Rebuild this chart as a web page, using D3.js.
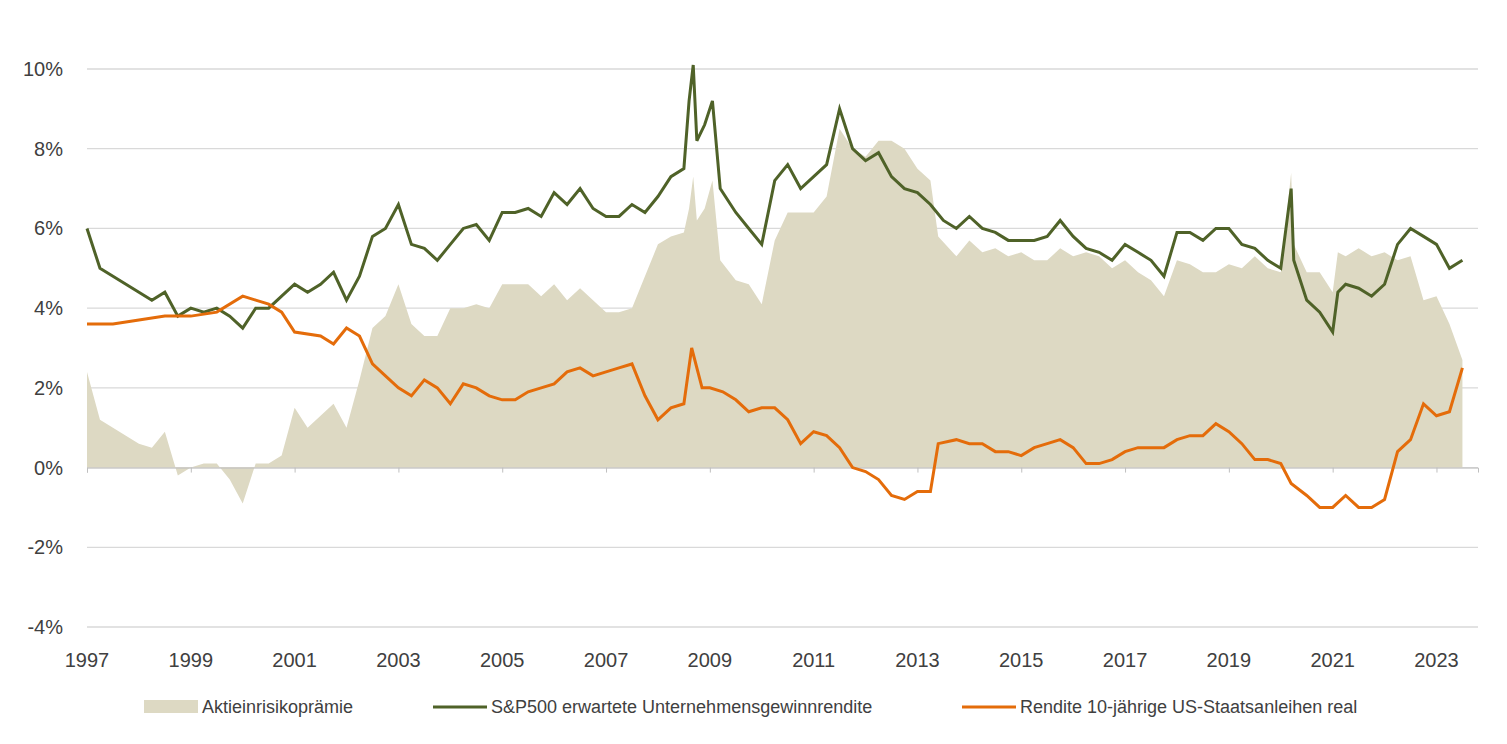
<!DOCTYPE html>
<html><head><meta charset="utf-8">
<script src="https://cdn.jsdelivr.net/npm/d3@7"></script>
<style>body{margin:0;background:#fff}svg{font-family:"Liberation Sans",Arial,sans-serif}</style>
</head><body><svg id="c" width="1507" height="744"></svg>
<script>
// [year, %] pairs
const premium = [[1997,2.4],[1997.25,1.2],[1997.5,1.0],[1997.75,0.8],[1998,0.6],[1998.25,0.5],[1998.5,0.9],[1998.75,-0.2],[1999,0.0],[1999.25,0.1],[1999.5,0.1],[1999.75,-0.3],[2000,-0.9],[2000.25,0.1],[2000.5,0.1],[2000.75,0.3],[2001,1.5],[2001.25,1.0],[2001.5,1.3],[2001.75,1.6],[2002,1.0],[2002.25,2.2],[2002.5,3.5],[2002.75,3.8],[2003,4.6],[2003.25,3.6],[2003.5,3.3],[2003.75,3.3],[2004,4.0],[2004.25,4.0],[2004.5,4.1],[2004.75,4.0],[2005,4.6],[2005.25,4.6],[2005.5,4.6],[2005.75,4.3],[2006,4.6],[2006.25,4.2],[2006.5,4.5],[2006.75,4.2],[2007,3.9],[2007.25,3.9],[2007.5,4.0],[2007.75,4.8],[2008,5.6],[2008.25,5.8],[2008.5,5.9],[2008.6,6.5],[2008.68,7.3],[2008.75,6.2],[2008.9,6.5],[2009.05,7.2],[2009.2,5.2],[2009.5,4.7],[2009.75,4.6],[2010,4.1],[2010.25,5.7],[2010.5,6.4],[2010.75,6.4],[2011,6.4],[2011.25,6.8],[2011.5,8.5],[2011.75,8.0],[2012,7.8],[2012.25,8.2],[2012.5,8.2],[2012.75,8.0],[2013,7.5],[2013.25,7.2],[2013.4,5.8],[2013.75,5.3],[2014,5.7],[2014.25,5.4],[2014.5,5.5],[2014.75,5.3],[2015,5.4],[2015.25,5.2],[2015.5,5.2],[2015.75,5.5],[2016,5.3],[2016.25,5.4],[2016.5,5.3],[2016.75,5.0],[2017,5.2],[2017.25,4.9],[2017.5,4.7],[2017.75,4.3],[2018,5.2],[2018.25,5.1],[2018.5,4.9],[2018.75,4.9],[2019,5.1],[2019.25,5.0],[2019.5,5.3],[2019.75,5.0],[2020,4.9],[2020.2,7.4],[2020.25,5.6],[2020.5,4.9],[2020.75,4.9],[2021,4.4],[2021.1,5.4],[2021.25,5.3],[2021.5,5.5],[2021.75,5.3],[2022,5.4],[2022.25,5.2],[2022.5,5.3],[2022.75,4.2],[2023,4.3],[2023.25,3.6],[2023.5,2.7]];

const earningsYield = [[1997,6.0],[1997.25,5.0],[1997.5,4.8],[1997.75,4.6],[1998,4.4],[1998.25,4.2],[1998.5,4.4],[1998.75,3.8],[1999,4.0],[1999.25,3.9],[1999.5,4.0],[1999.75,3.8],[2000,3.5],[2000.25,4.0],[2000.5,4.0],[2000.75,4.3],[2001,4.6],[2001.25,4.4],[2001.5,4.6],[2001.75,4.9],[2002,4.2],[2002.25,4.8],[2002.5,5.8],[2002.75,6.0],[2003,6.6],[2003.25,5.6],[2003.5,5.5],[2003.75,5.2],[2004,5.6],[2004.25,6.0],[2004.5,6.1],[2004.75,5.7],[2005,6.4],[2005.25,6.4],[2005.5,6.5],[2005.75,6.3],[2006,6.9],[2006.25,6.6],[2006.5,7.0],[2006.75,6.5],[2007,6.3],[2007.25,6.3],[2007.5,6.6],[2007.75,6.4],[2008,6.8],[2008.25,7.3],[2008.5,7.5],[2008.6,9.2],[2008.68,10.1],[2008.75,8.2],[2008.9,8.6],[2009.05,9.2],[2009.2,7.0],[2009.5,6.4],[2009.75,6.0],[2010,5.6],[2010.25,7.2],[2010.5,7.6],[2010.75,7.0],[2011,7.3],[2011.25,7.6],[2011.5,9.0],[2011.75,8.0],[2012,7.7],[2012.25,7.9],[2012.5,7.3],[2012.75,7.0],[2013,6.9],[2013.25,6.6],[2013.5,6.2],[2013.75,6.0],[2014,6.3],[2014.25,6.0],[2014.5,5.9],[2014.75,5.7],[2015,5.7],[2015.25,5.7],[2015.5,5.8],[2015.75,6.2],[2016,5.8],[2016.25,5.5],[2016.5,5.4],[2016.75,5.2],[2017,5.6],[2017.25,5.4],[2017.5,5.2],[2017.75,4.8],[2018,5.9],[2018.25,5.9],[2018.5,5.7],[2018.75,6.0],[2019,6.0],[2019.25,5.6],[2019.5,5.5],[2019.75,5.2],[2020,5.0],[2020.2,7.0],[2020.25,5.2],[2020.5,4.2],[2020.75,3.9],[2021,3.4],[2021.1,4.4],[2021.25,4.6],[2021.5,4.5],[2021.75,4.3],[2022,4.6],[2022.25,5.6],[2022.5,6.0],[2022.75,5.8],[2023,5.6],[2023.25,5.0],[2023.5,5.2]];

const realYield = [[1997,3.6],[1997.5,3.6],[1998,3.7],[1998.5,3.8],[1999,3.8],[1999.5,3.9],[2000,4.3],[2000.25,4.2],[2000.5,4.1],[2000.75,3.9],[2001,3.4],[2001.5,3.3],[2001.75,3.1],[2002,3.5],[2002.25,3.3],[2002.5,2.6],[2002.75,2.3],[2003,2.0],[2003.25,1.8],[2003.5,2.2],[2003.75,2.0],[2004,1.6],[2004.25,2.1],[2004.5,2.0],[2004.75,1.8],[2005,1.7],[2005.25,1.7],[2005.5,1.9],[2005.75,2.0],[2006,2.1],[2006.25,2.4],[2006.5,2.5],[2006.75,2.3],[2007,2.4],[2007.25,2.5],[2007.5,2.6],[2007.75,1.8],[2008,1.2],[2008.25,1.5],[2008.5,1.6],[2008.65,3.0],[2008.85,2.0],[2009,2.0],[2009.25,1.9],[2009.5,1.7],[2009.75,1.4],[2010,1.5],[2010.25,1.5],[2010.5,1.2],[2010.75,0.6],[2011,0.9],[2011.25,0.8],[2011.5,0.5],[2011.75,0.0],[2012,-0.1],[2012.25,-0.3],[2012.5,-0.7],[2012.75,-0.8],[2013,-0.6],[2013.25,-0.6],[2013.4,0.6],[2013.75,0.7],[2014,0.6],[2014.25,0.6],[2014.5,0.4],[2014.75,0.4],[2015,0.3],[2015.25,0.5],[2015.5,0.6],[2015.75,0.7],[2016,0.5],[2016.25,0.1],[2016.5,0.1],[2016.75,0.2],[2017,0.4],[2017.25,0.5],[2017.5,0.5],[2017.75,0.5],[2018,0.7],[2018.25,0.8],[2018.5,0.8],[2018.75,1.1],[2019,0.9],[2019.25,0.6],[2019.5,0.2],[2019.75,0.2],[2020,0.1],[2020.2,-0.4],[2020.5,-0.7],[2020.75,-1.0],[2021,-1.0],[2021.25,-0.7],[2021.5,-1.0],[2021.75,-1.0],[2022,-0.8],[2022.25,0.4],[2022.5,0.7],[2022.75,1.6],[2023,1.3],[2023.25,1.4],[2023.5,2.5]];

const yTicks = [-4,-2,0,2,4,6,8,10];
const xTicks = d3.range(1997, 2024, 2);
const legendLabels = ["Aktieinrisikoprämie","S&P500 erwartete Unternehmensgewinnrendite","Rendite 10-jährige US-Staatsanleihen real"];

const svg = d3.select("#c");
const x = d3.scaleLinear().domain([1997, 2023.8]).range([87, 1478]);
const y = d3.scaleLinear().domain([-4, 10]).range([627, 69]);

// grid
svg.append("g").selectAll("line").data(yTicks).join("line")
  .attr("x1", 87).attr("x2", 1478)
  .attr("y1", d => y(d)).attr("y2", d => y(d))
  .attr("stroke", "#d9d9d9").attr("stroke-width", 1.3);

svg.append("g").selectAll("text").data(yTicks).join("text")
  .attr("x", 63).attr("y", d => y(d)).attr("dy", "0.35em")
  .attr("text-anchor", "end").attr("font-size", 20).attr("fill", "#404040")
  .text(d => d + "%");

// area
svg.append("path").datum(premium)
  .attr("fill", "#ddd9c3")
  .attr("d", d3.area().x(d => x(d[0])).y0(y(0)).y1(d => y(d[1])));

// zero axis with ticks
const xa = svg.append("g").attr("transform", `translate(0,${y(0)})`)
  .call(d3.axisBottom(x).tickValues(xTicks).tickSize(5).tickFormat(""));
xa.select(".domain").attr("stroke", "#bfbfbf");
xa.selectAll(".tick line").attr("stroke", "#bfbfbf");

svg.append("g").selectAll("text").data(xTicks).join("text")
  .attr("x", d => x(d)).attr("y", 667)
  .attr("text-anchor", "middle").attr("font-size", 20).attr("fill", "#404040")
  .text(d => d);

const line = d3.line().x(d => x(d[0])).y(d => y(d[1]));
svg.append("path").datum(earningsYield).attr("fill", "none")
  .attr("stroke", "#4f6228").attr("stroke-width", 3).attr("d", line);
svg.append("path").datum(realYield).attr("fill", "none")
  .attr("stroke", "#e46c0a").attr("stroke-width", 3).attr("d", line);

// legend
const lg = svg.append("g").attr("font-size", 18).attr("fill", "#404040");
const lx = [144, 433, 962];
lg.append("rect").attr("x", lx[0]).attr("y", 700).attr("width", 54).attr("height", 13).attr("fill", "#ddd9c3");
lg.append("line").attr("x1", lx[1]).attr("x2", lx[1] + 54).attr("y1", 707).attr("y2", 707).attr("stroke", "#4f6228").attr("stroke-width", 3);
lg.append("line").attr("x1", lx[2]).attr("x2", lx[2] + 54).attr("y1", 707).attr("y2", 707).attr("stroke", "#e46c0a").attr("stroke-width", 3);
lg.selectAll("text").data(legendLabels).join("text")
  .attr("x", (d, i) => lx[i] + 58).attr("y", 707).attr("dy", "0.35em")
  .text(d => d);
</script></body></html>
